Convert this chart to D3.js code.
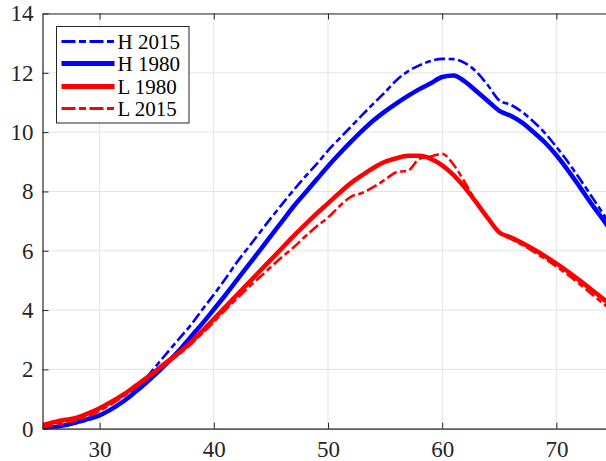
<!DOCTYPE html>
<html>
<head>
<meta charset="utf-8">
<script src="https://cdn.jsdelivr.net/npm/d3@7"></script>
<style>
  html, body { margin: 0; padding: 0; background: #fff; }
  svg { display: block; }
  svg text { font-family: 'Liberation Serif', 'Times New Roman', Times, serif !important; }
</style>
</head>
<body>
<svg id="chart" width="606" height="461"></svg>
<script>
const ages = d3.range(25, 76);

const h2015 = [0.0, 0.03, 0.09, 0.18, 0.3, 0.44, 0.64, 0.9, 1.25, 1.68,
  2.14, 2.6, 3.05, 3.5, 4.02, 4.52, 5.05, 5.6, 6.1, 6.6,
  7.1, 7.58, 8.05, 8.5, 8.92, 9.38, 9.78, 10.18, 10.58, 10.97,
  11.35, 11.75, 12.05, 12.25, 12.4, 12.47, 12.46, 12.33, 12.03, 11.58,
  11.07, 10.92, 10.68, 10.35, 9.97, 9.5, 9.0, 8.45, 7.88, 7.3, 6.72];

const h1980 = [0.0, 0.05, 0.12, 0.22, 0.33, 0.45, 0.65, 0.9, 1.2, 1.52,
  1.87, 2.25, 2.65, 3.1, 3.55, 4.02, 4.5, 5.0, 5.5, 6.0,
  6.5, 7.0, 7.5, 7.95, 8.4, 8.85, 9.27, 9.67, 10.05, 10.4,
  10.7, 10.97, 11.22, 11.45, 11.65, 11.86, 11.91, 11.7, 11.38, 11.05,
  10.72, 10.55, 10.32, 10.0, 9.65, 9.22, 8.72, 8.18, 7.62, 7.1, 6.55];

const l1980 = [0.12, 0.22, 0.3, 0.37, 0.52, 0.69, 0.9, 1.13, 1.4, 1.68,
  1.98, 2.28, 2.58, 2.92, 3.3, 3.7, 4.1, 4.5, 4.9, 5.3,
  5.7, 6.1, 6.5, 6.88, 7.25, 7.6, 7.95, 8.28, 8.55, 8.8,
  9.0, 9.12, 9.2, 9.2, 9.1, 8.88, 8.55, 8.12, 7.62, 7.1,
  6.62, 6.45, 6.26, 6.05, 5.82, 5.57, 5.3, 5.01, 4.71, 4.41, 4.1];

const l2015 = [0.05, 0.12, 0.2, 0.28, 0.42, 0.6, 0.82, 1.07, 1.35, 1.63,
  1.93, 2.22, 2.52, 2.85, 3.22, 3.6, 4.0, 4.38, 4.75, 5.1,
  5.45, 5.8, 6.12, 6.48, 6.82, 7.12, 7.5, 7.82, 7.95, 8.15,
  8.4, 8.65, 8.7, 9.1, 9.18, 9.27, 8.9, 8.3, 7.62, 7.08,
  6.6, 6.4, 6.2, 5.97, 5.73, 5.47, 5.19, 4.89, 4.57, 4.25, 3.93];

const xTicks = [30, 40, 50, 60, 70];
const yTicks = [0, 2, 4, 6, 8, 10, 12, 14];

const series = [
  { name: 'H 2015', values: h2015, color: '#0000ff', width: 2.6, dash: '11,3.5,6,3.5' },
  { name: 'H 1980', values: h1980, color: '#0000ff', width: 4.5, dash: null },
  { name: 'L 1980', values: l1980, color: '#ff0000', width: 4.5, dash: null },
  { name: 'L 2015', values: l2015, color: '#ff0000', width: 2.6, dash: '11,3.5,6,3.5' }
];

(() => {
  const svg = d3.select('#chart');
  const x0 = 42.5, x1 = 613.5, y0 = 13.5, y1 = 428.7;

  const x = d3.scaleLinear().domain([25, 75]).range([x0, x1]);
  const y = d3.scaleLinear().domain([0, 14]).range([y1, y0]);

  const axisColor = '#262626';
  const gridColor = '#e3e3e3';

  // grid
  const grid = svg.append('g');
  grid.selectAll('.gx').data(xTicks).join('line')
    .attr('x1', d => x(d)).attr('x2', d => x(d))
    .attr('y1', y0).attr('y2', y1)
    .attr('stroke', gridColor).attr('stroke-width', 1);
  grid.selectAll('.gy').data(yTicks).join('line')
    .attr('x1', x0).attr('x2', x1)
    .attr('y1', d => y(d)).attr('y2', d => y(d))
    .attr('stroke', gridColor).attr('stroke-width', 1);

  // curves
  const line = d3.line()
    .x((d, i) => x(ages[i]))
    .y(d => y(d))
    .curve(d3.curveMonotoneX);

  svg.append('defs').append('clipPath').attr('id', 'clip')
    .append('rect').attr('x', x0).attr('y', y0)
    .attr('width', x1 - x0).attr('height', y1 - y0);

  const plot = svg.append('g').attr('clip-path', 'url(#clip)');
  series.forEach(s => {
    plot.append('path')
      .datum(s.values)
      .attr('d', line)
      .attr('fill', 'none')
      .attr('stroke', s.color)
      .attr('stroke-width', s.width)
      .attr('stroke-dasharray', s.dash)
      .attr('stroke-linejoin', 'round');
  });

  // axes
  const tickLen = 6;
  const xb = svg.append('g').attr('transform', `translate(0,${y1})`)
    .call(d3.axisBottom(x).tickValues(xTicks).tickSizeInner(-tickLen).tickSizeOuter(0).tickPadding(12));
  const xt = svg.append('g').attr('transform', `translate(0,${y0})`)
    .call(d3.axisTop(x).tickValues(xTicks).tickSizeInner(-tickLen).tickSizeOuter(0).tickFormat(''));
  const yl = svg.append('g').attr('transform', `translate(${x0},0)`)
    .call(d3.axisLeft(y).tickValues(yTicks).tickSizeInner(-tickLen).tickSizeOuter(0).tickPadding(9));
  const yr = svg.append('g').attr('transform', `translate(${x1},0)`)
    .call(d3.axisRight(y).tickValues(yTicks).tickSizeInner(-tickLen).tickSizeOuter(0).tickFormat(''));

  [xb, xt, yl, yr].forEach(g => {
    g.attr('font-family', 'Liberation Serif').attr('font-size', 23);
    g.select('.domain').attr('stroke', axisColor).attr('stroke-width', 1.2);
    g.selectAll('.tick line').attr('stroke', axisColor).attr('stroke-width', 1);
    g.selectAll('.tick text').attr('fill', axisColor);
  });

  // legend
  const lg = svg.append('g').attr('font-family', 'Liberation Serif');
  lg.append('rect')
    .attr('x', 56.5).attr('y', 26.5).attr('width', 132.5).attr('height', 96.5)
    .attr('fill', '#fff').attr('stroke', axisColor).attr('stroke-width', 1);
  const rowY = [41.5, 63.5, 86.5, 108.5];
  series.forEach((s, i) => {
    lg.append('line')
      .attr('x1', 61.5).attr('x2', 114.5)
      .attr('y1', rowY[i]).attr('y2', rowY[i])
      .attr('stroke', s.color)
      .attr('stroke-width', s.dash ? 3 : 4.8)
      .attr('stroke-dasharray', s.dash ? '14,3.5,7,3.5' : null);
    lg.append('text')
      .attr('x', 117.5).attr('y', rowY[i])
      .attr('dy', '0.34em')
      .attr('font-size', 21)
      .attr('fill', '#000')
      .text(s.name);
  });
})();
</script>
</body>
</html>
